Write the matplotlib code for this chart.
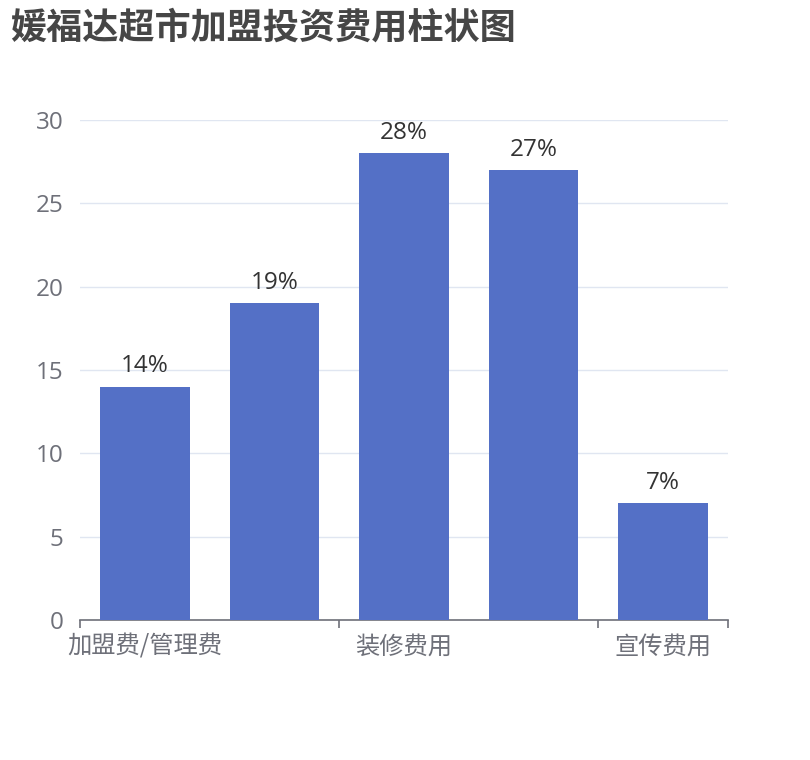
import matplotlib
matplotlib.use("Agg")
import matplotlib.pyplot as plt
import numpy as np

plt.rcParams["font.family"] = ["Noto Sans CJK SC", "DejaVu Sans"]
NUM_FONT = ["Open Sans", "Noto Sans CJK SC"]

TITLE = "媛福达超市加盟投资费用柱状图"
CATEGORIES = ["加盟费/管理费", "设备费用", "装修费用", "首批货款", "宣传费用"]
VALUES = [14, 19, 28, 27, 7]
SHOWN_LABELS = [0, 2, 4]

BAR_COLOR = "#5470C6"
AXIS_COLOR = "#6E7079"
GRID_COLOR = "#E0E6F1"

fig = plt.figure(figsize=(8.1, 7.6), dpi=100)
ax = fig.add_axes([80 / 810, 140 / 760, 648 / 810, 500 / 760])

x = np.arange(len(CATEGORIES))
bars = ax.bar(x, VALUES, width=0.69, color=BAR_COLOR, zorder=3)
for xi, v in zip(x, VALUES):
    ax.annotate(f"{v}%", (xi, v), xytext=(0, 6), textcoords="offset points",
                ha="center", va="bottom", fontsize=17.5, color="#333333",
                family=NUM_FONT)

ax.set_xlim(-0.5, len(CATEGORIES) - 0.5)
ax.set_ylim(0, 30)
ax.set_yticks(range(0, 31, 5))
ax.yaxis.grid(True, color=GRID_COLOR, linewidth=1, zorder=0)
ax.tick_params(axis="y", length=0, labelsize=17.5, labelcolor=AXIS_COLOR, pad=12)
for lbl in ax.get_yticklabels():
    lbl.set_family(NUM_FONT)

for s in ["top", "right", "left"]:
    ax.spines[s].set_visible(False)
ax.spines["bottom"].set_color(AXIS_COLOR)
ax.spines["bottom"].set_linewidth(1.2)

ax.set_xticks([-0.5, 1.5, 3.5, 4.5])
ax.set_xticklabels([])
ax.tick_params(axis="x", length=6, width=1.2, color=AXIS_COLOR)
for i in SHOWN_LABELS:
    ax.text(x[i], -0.028, CATEGORIES[i], transform=ax.get_xaxis_transform(),
            ha="center", va="top", fontsize=17.5, color=AXIS_COLOR)

fig.text(10 / 810, 1 - 28 / 760, TITLE, fontsize=26, fontweight="bold",
         color="#464646", ha="left", va="center")

fig.savefig("out.png", dpi=100)
